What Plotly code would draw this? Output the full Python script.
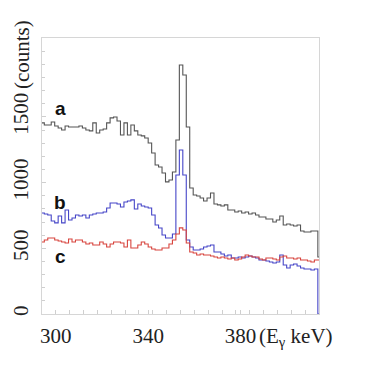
import plotly.graph_objects as go

# histogram binning (keV)
bin_start = 293.5
bin_width = 1.5

# counts per bin
counts_a = [1454, 1438, 1438, 1461, 1431, 1415, 1400, 1431, 1423, 1423,
            1423, 1431, 1415, 1400, 1393, 1454, 1377, 1400, 1408, 1454,
            1492, 1499, 1469, 1362, 1454, 1362, 1438, 1393, 1362, 1355,
            1339, 1301, 1225, 1134, 1119, 1073, 1005, 1020, 1081, 1324,
            1895, 1819, 1423, 959, 906, 898, 883, 860, 883, 921,
            837, 830, 822, 830, 791, 791, 776, 784, 769, 776,
            761, 769, 753, 738, 738, 723, 723, 700, 715, 746,
            677, 685, 677, 670, 677, 632, 624, 624, 632, 632, 434]

counts_b = [769, 761, 753, 708, 693, 746, 693, 791, 715, 731,
            753, 746, 753, 731, 753, 761, 769, 769, 776, 807,
            845, 845, 837, 814, 852, 860, 868, 799, 837, 822,
            814, 807, 753, 677, 654, 601, 578, 578, 609, 1058,
            1248, 1058, 563, 510, 487, 487, 495, 510, 517, 525,
            472, 472, 457, 441, 449, 426, 426, 434, 426, 434,
            441, 434, 426, 411, 411, 403, 396, 388, 396, 449,
            373, 350, 373, 381, 365, 350, 342, 342, 335, 342, 0]

counts_c = [548, 563, 578, 578, 563, 556, 548, 540, 571, 548,
            563, 563, 548, 533, 540, 525, 525, 548, 533, 510,
            533, 548, 548, 540, 510, 563, 502, 502, 525, 548,
            533, 510, 495, 487, 487, 502, 502, 533, 563, 609,
            655, 639, 540, 472, 464, 449, 457, 449, 449, 441,
            434, 426, 434, 426, 419, 426, 411, 419, 434, 449,
            441, 434, 434, 419, 411, 426, 426, 419, 411, 434,
            441, 426, 426, 419, 426, 411, 411, 403, 396, 411, 411]

series = [('a', counts_a, '#555555'),
          ('b', counts_b, '#4646c8'),
          ('c', counts_c, '#d8453e')]

x_ticks = [300, 340, 380]
y_ticks = [0, 500, 1000, 1500]

serif = 'Liberation Serif'
sans = 'Liberation Sans'

fig = go.Figure()
for name, counts, color in series:
    edges = [bin_start + bin_width * i for i in range(len(counts) + 1)]
    fig.add_trace(go.Scatter(x=edges, y=counts + [counts[-1]], mode='lines',
                             line=dict(shape='hv', color=color, width=1.1),
                             name=name, showlegend=False, hoverinfo='skip'))

# curve labels
label_y = {'a': 1560, 'b': 845, 'c': 434}
for name, counts, color in series:
    fig.add_annotation(x=301.8, y=label_y[name], text='<b>' + name + '</b>',
                       showarrow=False, xanchor='center', yanchor='middle',
                       font=dict(family=sans, size=19, color='#111'))

# axis titles written next to the last tick labels
fig.add_annotation(xref='paper', yref='paper', x=0.775, y=-0.085,
                   text='(E<sub>γ</sub> keV)', showarrow=False,
                   xanchor='left', yanchor='middle',
                   font=dict(family=serif, size=21, color='#222'))
fig.add_annotation(xref='paper', yref='paper', x=-0.074, y=0.94,
                   text='(counts)', textangle=-90, showarrow=False,
                   xanchor='center', yanchor='middle',
                   font=dict(family=serif, size=21, color='#222'))

fig.update_xaxes(range=[294, 414], tickvals=x_ticks,
                 ticktext=[str(v) for v in x_ticks], automargin=False,
                 ticks='inside', ticklen=4, tickcolor='#cfcfcf',
                 ticklabelstandoff=3,
                 minor=dict(dtick=6, tick0=294, ticks='inside', ticklen=4,
                            tickcolor='#cfcfcf'),
                 showline=True, linecolor='#d6d6d6', linewidth=1, mirror=True,
                 showgrid=False, zeroline=False,
                 tickfont=dict(family=serif, size=21, color='#222'))
fig.update_yaxes(range=[0, 2100], tickvals=y_ticks,
                 ticktext=[str(v) for v in y_ticks], tickangle=-90,
                 automargin=False, ticklabelstandoff=5,
                 ticks='inside', ticklen=4, tickcolor='#cfcfcf',
                 minor=dict(dtick=100, ticks='inside', ticklen=3,
                            tickcolor='#cfcfcf'),
                 showline=True, linecolor='#d6d6d6', linewidth=1, mirror=True,
                 showgrid=False, zeroline=False,
                 tickfont=dict(family=serif, size=21, color='#222'))

# page body has an 8px margin, so the figure is drawn 8px smaller
fig.update_layout(width=373, height=373,
                  margin=dict(l=34, r=62, t=30, b=67),
                  paper_bgcolor='white', plot_bgcolor='white')

fig.write_html("out.html")
